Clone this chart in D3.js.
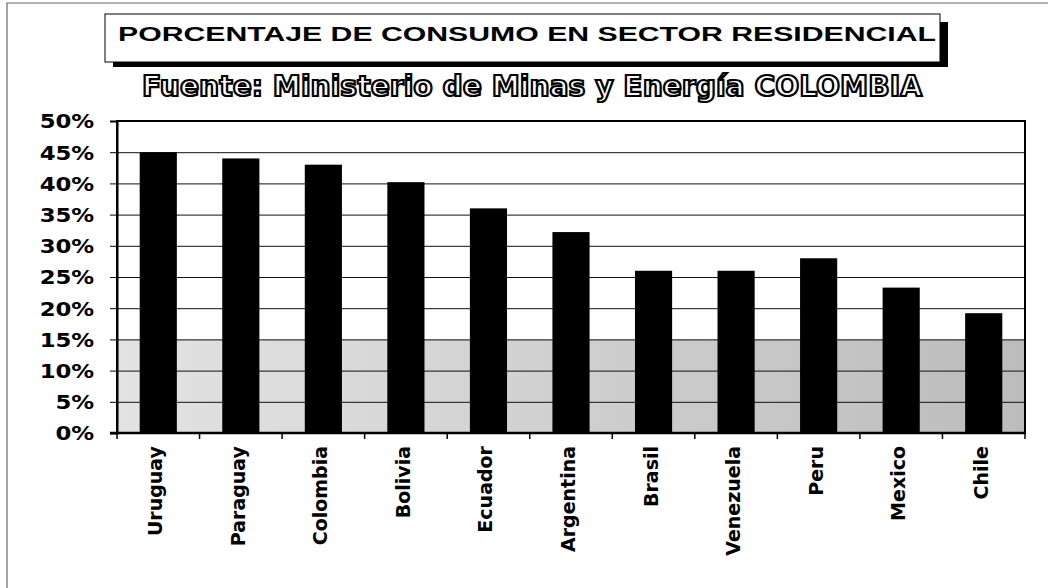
<!DOCTYPE html>
<html>
<head>
<meta charset="utf-8">
<script src="https://cdn.jsdelivr.net/npm/d3@7/dist/d3.min.js"></script>
<style>
  body { margin: 0; background: #fff; }
  svg { display: block; }
</style>
</head>
<body>
<div id="chart"></div>
<script>
// Data
let countries = ['Uruguay', 'Paraguay', 'Colombia', 'Bolivia', 'Ecuador', 'Argentina',
    'Brasil', 'Venezuela', 'Peru', 'Mexico', 'Chile'];
let percentages = [45, 44, 43, 40.2, 36, 32.2, 26, 26, 28, 23.3, 19.2];
let yTicks = [0, 5, 10, 15, 20, 25, 30, 35, 40, 45, 50];
let chartTitle = 'PORCENTAJE DE CONSUMO EN SECTOR RESIDENCIAL';
let chartSubtitle = 'Fuente: Ministerio de Minas y Energía COLOMBIA';

let svgWidth = 1048;
let svgHeight = 588;

let margin = {
    top: 121,
    right: 23,
    bottom: 155,
    left: 117
};

let width = svgWidth - margin.left - margin.right;
let height = svgHeight - margin.top - margin.bottom;

let svg = d3.select('#chart')
    .append('svg')
    .attr('width', svgWidth)
    .attr('height', svgHeight);

// Outer frame of the scanned sheet
svg.append('path')
    .attr('d', `M7,${svgHeight} V3 H${svgWidth}`)
    .attr('fill', 'none')
    .attr('stroke', '#666')
    .attr('stroke-width', 1.2);

// Title box with drop shadow
svg.append('rect')
    .attr('x', 113).attr('y', 22)
    .attr('width', 835).attr('height', 45)
    .attr('fill', '#000');
svg.append('rect')
    .attr('x', 105).attr('y', 14)
    .attr('width', 835).attr('height', 48)
    .attr('fill', '#fff')
    .attr('stroke', '#000')
    .attr('stroke-width', 1);

svg.append('text')
    .attr('x', 118).attr('y', 41)
    .attr('font-family', '"Liberation Sans", Arial, sans-serif')
    .attr('font-weight', 'bold')
    .attr('font-size', 20.5)
    .attr('textLength', 818)
    .attr('lengthAdjust', 'spacingAndGlyphs')
    .text(chartTitle);

// Outlined subtitle
svg.append('text')
    .attr('x', 142).attr('y', 96)
    .attr('font-family', '"DejaVu Sans", Verdana, sans-serif')
    .attr('font-weight', 'bold')
    .attr('font-size', 28)
    .attr('textLength', 780)
    .attr('lengthAdjust', 'spacingAndGlyphs')
    .attr('fill', '#fff')
    .attr('stroke', '#000')
    .attr('stroke-width', 2.2)
    .text(chartSubtitle);

let chartGroup = svg.append('g')
    .attr('transform', `translate(${margin.left}, ${margin.top})`);

// Scales
let xBandScale = d3.scaleBand()
    .domain(countries)
    .range([0, width])
    .paddingInner(0.55)
    .paddingOuter(0.275);

let yLinearScale = d3.scaleLinear()
    .domain([0, 50])
    .range([height, 0]);

// Plot background: white on top, stippled grey below 15%
let grad = svg.append('defs').append('linearGradient')
    .attr('id', 'stipple')
    .attr('x1', '0%').attr('x2', '100%');
grad.append('stop').attr('offset', '0%').attr('stop-color', '#e3e3e3');
grad.append('stop').attr('offset', '100%').attr('stop-color', '#bcbcbc');

chartGroup.append('rect')
    .attr('width', width)
    .attr('height', height)
    .attr('fill', '#fff');

chartGroup.append('rect')
    .attr('y', yLinearScale(15))
    .attr('width', width)
    .attr('height', height - yLinearScale(15))
    .attr('fill', 'url(#stipple)');

// Gridlines
chartGroup.append('g')
    .call(d3.axisLeft(yLinearScale).tickValues(yTicks).tickSize(-width).tickFormat(''))
    .call(g => g.select('.domain').remove())
    .selectAll('line')
    .attr('stroke', '#111')
    .attr('stroke-width', 1);

// Bars
chartGroup.selectAll('.bar')
    .data(countries)
    .enter()
    .append('rect')
    .attr('class', 'bar')
    .attr('x', d => xBandScale(d))
    .attr('y', (d, i) => yLinearScale(percentages[i]))
    .attr('width', xBandScale.bandwidth())
    .attr('height', (d, i) => height - yLinearScale(percentages[i]))
    .attr('fill', '#000');

// Plot frame
chartGroup.append('rect')
    .attr('width', width)
    .attr('height', height)
    .attr('fill', 'none')
    .attr('stroke', '#000')
    .attr('stroke-width', 2);

// Y axis
let leftAxis = d3.axisLeft(yLinearScale)
    .tickValues(yTicks)
    .tickSize(7)
    .tickPadding(0)
    .tickFormat(d => d + '%');

let yAxis = chartGroup.append('g')
    .call(leftAxis);

yAxis.select('.domain')
    .attr('stroke-width', 2);

yAxis.selectAll('text')
    .attr('font-family', '"DejaVu Sans", Verdana, sans-serif')
    .attr('font-weight', 'bold')
    .attr('font-size', 19)
    .attr('fill', '#000')
    .attr('x', -19)
    .attr('dy', '0.36em')
    .attr('transform', 'scale(1.2,1)');

// X axis: tick marks at category boundaries (Excel style)
let boundaries = countries.map(d => xBandScale(d) - xBandScale.step() * xBandScale.paddingInner() / 2)
    .concat([width]);

chartGroup.append('g')
    .selectAll('line')
    .data(boundaries)
    .enter()
    .append('line')
    .attr('x1', d => d).attr('x2', d => d)
    .attr('y1', height).attr('y2', height + 6)
    .attr('stroke', '#000')
    .attr('stroke-width', 1.5);

chartGroup.append('line')
    .attr('x1', -7).attr('x2', width)
    .attr('y1', height).attr('y2', height)
    .attr('stroke', '#000')
    .attr('stroke-width', 2.5);

let bottomAxis = d3.axisBottom(xBandScale)
    .tickSize(0);

let xAxis = chartGroup.append('g')
    .attr('transform', `translate(0, ${height})`)
    .call(bottomAxis);

xAxis.select('.domain').remove();

xAxis.selectAll('text')
    .attr('font-family', '"DejaVu Sans", Verdana, sans-serif')
    .attr('font-weight', 'bold')
    .attr('font-size', 19)
    .attr('fill', '#000')
    .attr('text-anchor', 'end')
    .attr('transform', 'rotate(-90)')
    .attr('x', -13)
    .attr('y', 4)
    .attr('dy', 0);
</script>
</body>
</html>
